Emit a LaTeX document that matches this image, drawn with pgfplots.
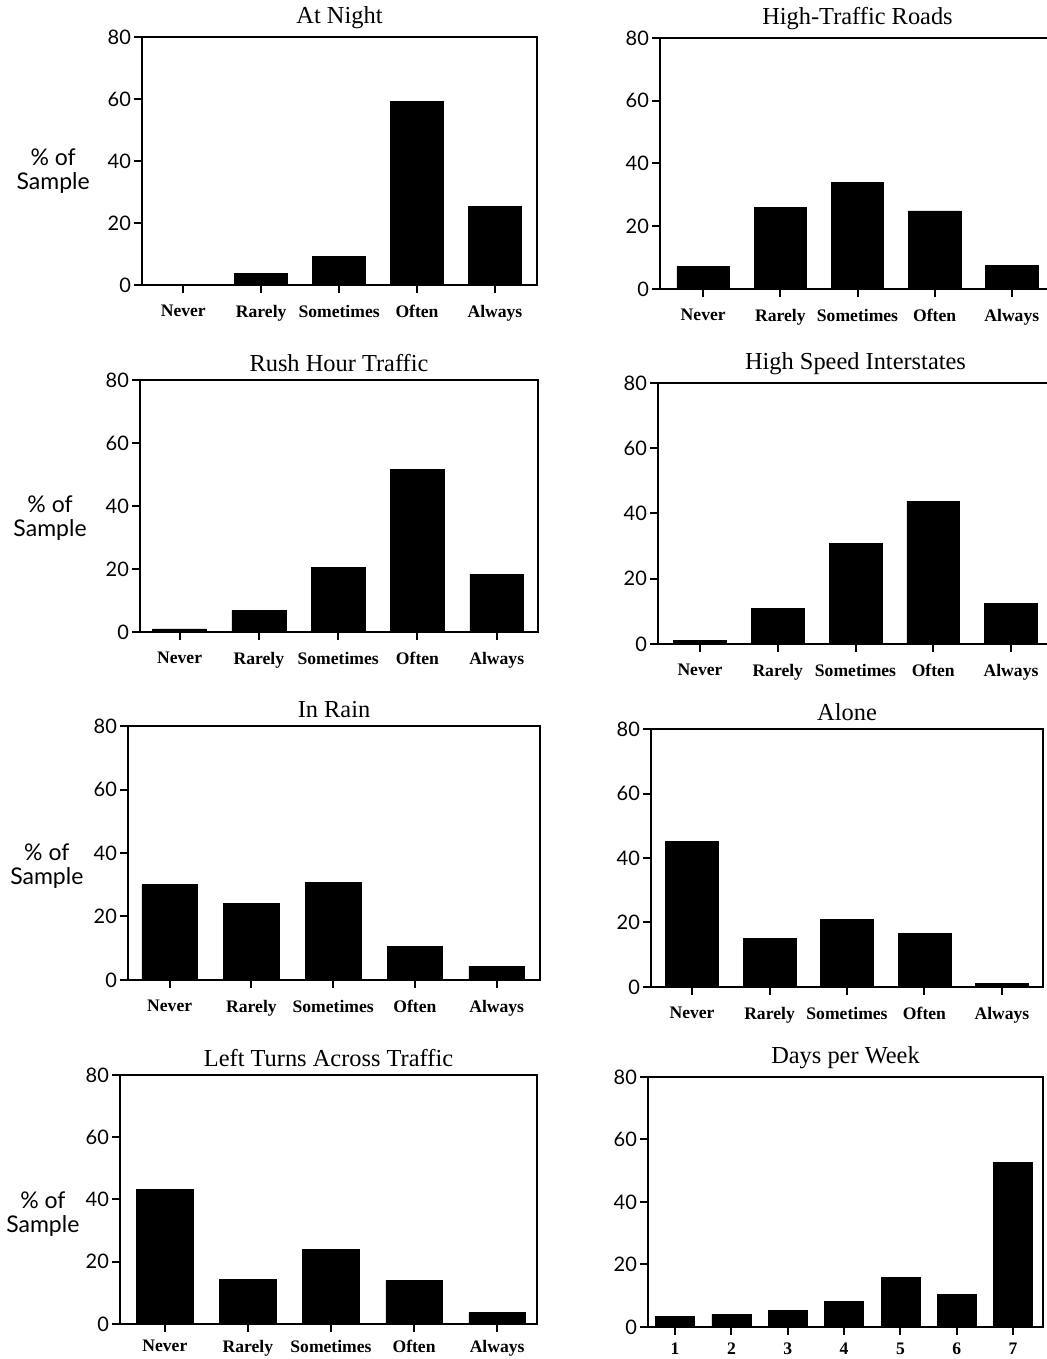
\documentclass[border=0pt]{standalone}
\usepackage{pgfplots}
\pgfplotsset{compat=1.18}
\usepackage{fontspec}
\setmainfont{Liberation Serif}
\newfontfamily\sansf{Lato}
\pgfplotsset{
  panel/.style={
    scale only axis,
    anchor=south west,
    ymin=0, ymax=80,
    ytick={0,20,40,60,80},
    tick pos=left,
    tick align=outside,
    major tick length=4pt,
    axis line style={line width=1pt},
    every tick/.style={black, line width=1pt},
    /pgf/number format/assume math mode=true,
    yticklabel style={font=\sansf\fontsize{10}{12}\selectfont, xshift=2pt},
    xticklabel style={font=\bfseries\fontsize{8.8}{10}\selectfont, yshift=-2.5pt},
    title style={font=\fontsize{12.2}{13}\selectfont, yshift=-5.5pt},
    xtick=data,
    ybar, bar width=0.68,
  },
  bottomrow/.style={xticklabel style={yshift=2pt}},
  cat/.style={xticklabels={Never,Rarely,Sometimes,Often,Always}},
  ylab/.style={after end axis/.code={\node[font=\sansf\fontsize{11.5}{12}\selectfont, align=center] at (rel axis cs:#1) {\% of\\Sample};}},
  barsty/.style={fill=black, draw=black, line width=0.3pt},
}
\begin{document}
\begin{tikzpicture}
\useasboundingbox (0,0) rectangle (523pt,679.5pt);
% Row 1
\begin{axis}[panel, cat, at={(71pt,537pt)}, width=197.5pt, height=124pt,
  xmin=-0.53, xmax=4.54, title={At Night}, ylab={-0.225,0.46}]
\addplot[barsty] coordinates {(0,0) (1,3.7) (2,9.3) (3,59.3) (4,25.4)};
\end{axis}
\begin{axis}[panel, cat, at={(330pt,535pt)}, width=197.5pt, height=125.5pt,
  xmin=-0.56, xmax=4.56, title={High-Traffic Roads}]
\addplot[barsty] coordinates {(0,7.1) (1,26.1) (2,34) (3,24.9) (4,7.4)};
\end{axis}
% Row 2
\begin{axis}[panel, cat, at={(70pt,363.5pt)}, width=199pt, height=126pt,
  xmin=-0.50, xmax=4.52, title={Rush Hour Traffic}, ylab={-0.226,0.45}]
\addplot[barsty] coordinates {(0,1) (1,6.9) (2,20.5) (3,51.5) (4,18.3)};
\end{axis}
\begin{axis}[panel, cat, at={(329pt,357.5pt)}, width=197.5pt, height=130.5pt,
  xmin=-0.54, xmax=4.54, title={High Speed Interstates}]
\addplot[barsty] coordinates {(0,1) (1,10.8) (2,30.8) (3,43.7) (4,12.4)};
\end{axis}
% Row 3
\begin{axis}[panel, cat, at={(64pt,189.5pt)}, width=206pt, height=127pt,
  xmin=-0.51, xmax=4.53, title={In Rain}, ylab={-0.197,0.45}]
\addplot[barsty] coordinates {(0,30) (1,24.2) (2,30.8) (3,10.5) (4,4.4)};
\end{axis}
\begin{axis}[panel, cat, at={(325.5pt,186pt)}, width=196pt, height=129pt,
  xmin=-0.53, xmax=4.53, title={Alone}]
\addplot[barsty] coordinates {(0,45.1) (1,15) (2,20.9) (3,16.5) (4,1)};
\end{axis}
% Row 4
\begin{axis}[panel, cat, bottomrow, at={(60pt,17.5pt)}, width=208.5pt, height=124.5pt,
  xmin=-0.54, xmax=4.48, title={Left Turns Across Traffic}, ylab={-0.185,0.44}]
\addplot[barsty] coordinates {(0,43.2) (1,14.3) (2,23.9) (3,13.9) (4,3.6)};
\end{axis}
\begin{axis}[panel, bottomrow, at={(324pt,16pt)}, width=197.5pt, height=125pt,
  xmin=0.52, xmax=7.53, bar width=0.69, title={Days per Week},
  xticklabels={1,2,3,4,5,6,7}]
\addplot[barsty] coordinates {(1,3.4) (2,4.1) (3,5.2) (4,8.1) (5,15.9) (6,10.5) (7,52.6)};
\end{axis}
\end{tikzpicture}
\end{document}
